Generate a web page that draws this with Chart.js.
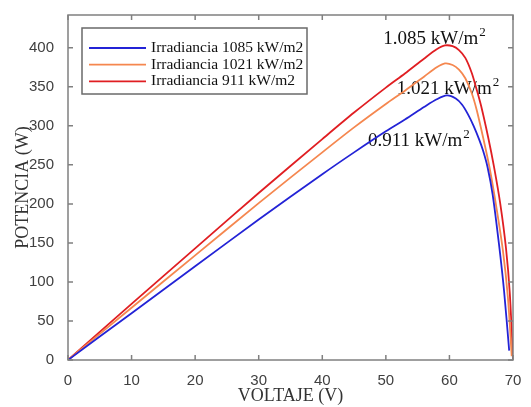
<!DOCTYPE html>
<html>
<head>
<meta charset="utf-8">
<script src="https://cdn.jsdelivr.net/npm/chart.js@4/dist/chart.umd.min.js"></script>
<style>
  html, body { margin: 0; padding: 0; background: #fff; }
  #wrap { width: 531px; height: 407px; }
</style>
</head>
<body>
<div id="wrap"><canvas id="c" width="531" height="407"></canvas></div>
<script>
// voltage (V) / power (W)
const V_RED  = [0, 10, 20, 30, 40, 45, 50, 53, 56, 58, 59.3, 60.5, 61.5, 62.5, 63.5, 64.3, 65, 66.1, 67, 68, 68.9, 69.5, 70];
const P_RED  = [0, 72, 143, 214, 283, 317, 349, 367, 386, 398, 403, 402, 397, 387, 368, 346, 325, 285, 248, 200, 143, 85, 0];
const V_ORG  = [0, 10, 20, 30, 40, 45, 50, 53, 56, 58, 59.3, 60.5, 61.5, 62.5, 63.5, 64.3, 65.3, 66.3, 67.3, 68.4, 69.2, 69.8];
const P_ORG  = [0, 67, 134, 201, 266, 298, 328, 345, 363, 375, 380, 378, 372, 361, 342, 320, 285, 247, 200, 141, 80, 5];
const V_BLUE = [0, 10, 20, 30, 40, 45, 50, 53, 56, 58, 59.6, 61, 62, 62.9, 63.8, 64.7, 65.3, 66, 66.8, 67.8, 68.6, 69.4];
const P_BLUE = [0, 60, 120, 180, 238, 266, 293, 308, 324, 334, 339, 335, 327, 315, 300, 282, 268, 247, 212, 148, 88, 12];

const LEGEND = ['Irradiancia 1085 kW/m2', 'Irradiancia 1021 kW/m2', 'Irradiancia 911 kW/m2'];
const NOTES = [
  { text: '1.085 kW/m', sup: '2', x: 49.6, y: 405 },
  { text: '1.021 kW/m', sup: '2', x: 51.7, y: 341 },
  { text: '0.911 kW/m', sup: '2', x: 47.2, y: 274 }
];
const X_TICKS = [0, 10, 20, 30, 40, 50, 60, 70];
const Y_TICKS = [0, 50, 100, 150, 200, 250, 300, 350, 400];

const pts = (xs, ys) => xs.map((x, i) => ({ x, y: ys[i] }));
const BOX = '#808080';
const SERIF = '"Liberation Serif", "DejaVu Serif", serif';

const frame = {
  id: 'frame',
  beforeDatasetsDraw(chart) {
    const { ctx, scales: { x, y } } = chart;
    ctx.save();
    ctx.fillStyle = '#111';
    ctx.textBaseline = 'alphabetic';
    NOTES.forEach(n => {
      const px = x.getPixelForValue(n.x), py = y.getPixelForValue(n.y);
      ctx.font = '19px ' + SERIF;
      ctx.fillText(n.text, px, py);
      const w = ctx.measureText(n.text).width;
      ctx.font = '13px ' + SERIF;
      ctx.fillText(n.sup, px + w + 1, py - 8);
    });
    ctx.restore();
  },
  afterDatasetsDraw(chart) {
    const { ctx, chartArea: a, scales: { x, y } } = chart;
    ctx.save();
    ctx.strokeStyle = BOX;
    ctx.lineWidth = 1.5;
    ctx.strokeRect(a.left, a.top, a.right - a.left, a.bottom - a.top);
    ctx.beginPath();
    X_TICKS.forEach(v => {
      const p = x.getPixelForValue(v);
      ctx.moveTo(p, a.bottom); ctx.lineTo(p, a.bottom - 5);
      ctx.moveTo(p, a.top); ctx.lineTo(p, a.top + 5);
    });
    Y_TICKS.forEach(v => {
      const p = y.getPixelForValue(v);
      ctx.moveTo(a.left, p); ctx.lineTo(a.left + 5, p);
      ctx.moveTo(a.right, p); ctx.lineTo(a.right - 5, p);
    });
    ctx.stroke();

    // legend box
    const lx = a.left + 14, ly = a.top + 13, lw = 225, lh = 66;
    ctx.fillStyle = '#fff';
    ctx.fillRect(lx, ly, lw, lh);
    ctx.strokeStyle = '#6a6a6a';
    ctx.lineWidth = 1.5;
    ctx.strokeRect(lx, ly, lw, lh);
    ctx.font = '15.5px ' + SERIF;
    ctx.textBaseline = 'middle';
    chart.data.datasets.forEach((ds, i) => {
      const ry = ly + 20 + i * 16.7;
      ctx.strokeStyle = ds.borderColor;
      ctx.lineWidth = 1.8;
      ctx.beginPath();
      ctx.moveTo(lx + 7, ry); ctx.lineTo(lx + 64, ry);
      ctx.stroke();
      ctx.fillStyle = '#111';
      ctx.fillText(ds.label, lx + 69, ry);
    });
    ctx.restore();
  }
};

new Chart(document.getElementById('c'), {
  type: 'scatter',
  data: {
    datasets: [
      { label: LEGEND[0], data: pts(V_BLUE, P_BLUE), borderColor: '#2323d6' },
      { label: LEGEND[1], data: pts(V_ORG, P_ORG), borderColor: '#f5874f' },
      { label: LEGEND[2], data: pts(V_RED, P_RED), borderColor: '#e01e22' }
    ].map(d => Object.assign(d, { showLine: true, borderWidth: 1.8, pointRadius: 0, tension: 0.3, fill: false }))
  },
  options: {
    responsive: false,
    animation: false,
    layout: { padding: { top: 14, right: 18, left: 12, bottom: 0 } },
    plugins: { legend: { display: false }, tooltip: { enabled: false } },
    scales: {
      x: {
        type: 'linear', min: 0, max: 70,
        afterBuildTicks: s => { s.ticks = X_TICKS.map(v => ({ value: v })); },
        afterFit: s => { s.height = 47; },
        grid: { display: false }, border: { display: false },
        ticks: { color: '#404040', font: { family: '"Liberation Sans", Arial, sans-serif', size: 15 }, padding: 4, maxRotation: 0 },
        title: { display: true, text: 'VOLTAJE (V)', color: '#333', font: { family: SERIF, size: 18 }, padding: { top: 0, bottom: 0 } }
      },
      y: {
        type: 'linear', min: 0, max: 442,
        afterBuildTicks: s => { s.ticks = Y_TICKS.map(v => ({ value: v })); },
        afterFit: s => { s.width = 56; },
        grid: { display: false }, border: { display: false },
        ticks: { color: '#404040', font: { family: '"Liberation Sans", Arial, sans-serif', size: 15 }, padding: 6 },
        title: { display: true, text: 'POTENCIA (W)', color: '#333', font: { family: SERIF, size: 18 }, padding: { top: 0, bottom: 0 } }
      }
    }
  },
  plugins: [frame]
});
</script>
</body>
</html>
